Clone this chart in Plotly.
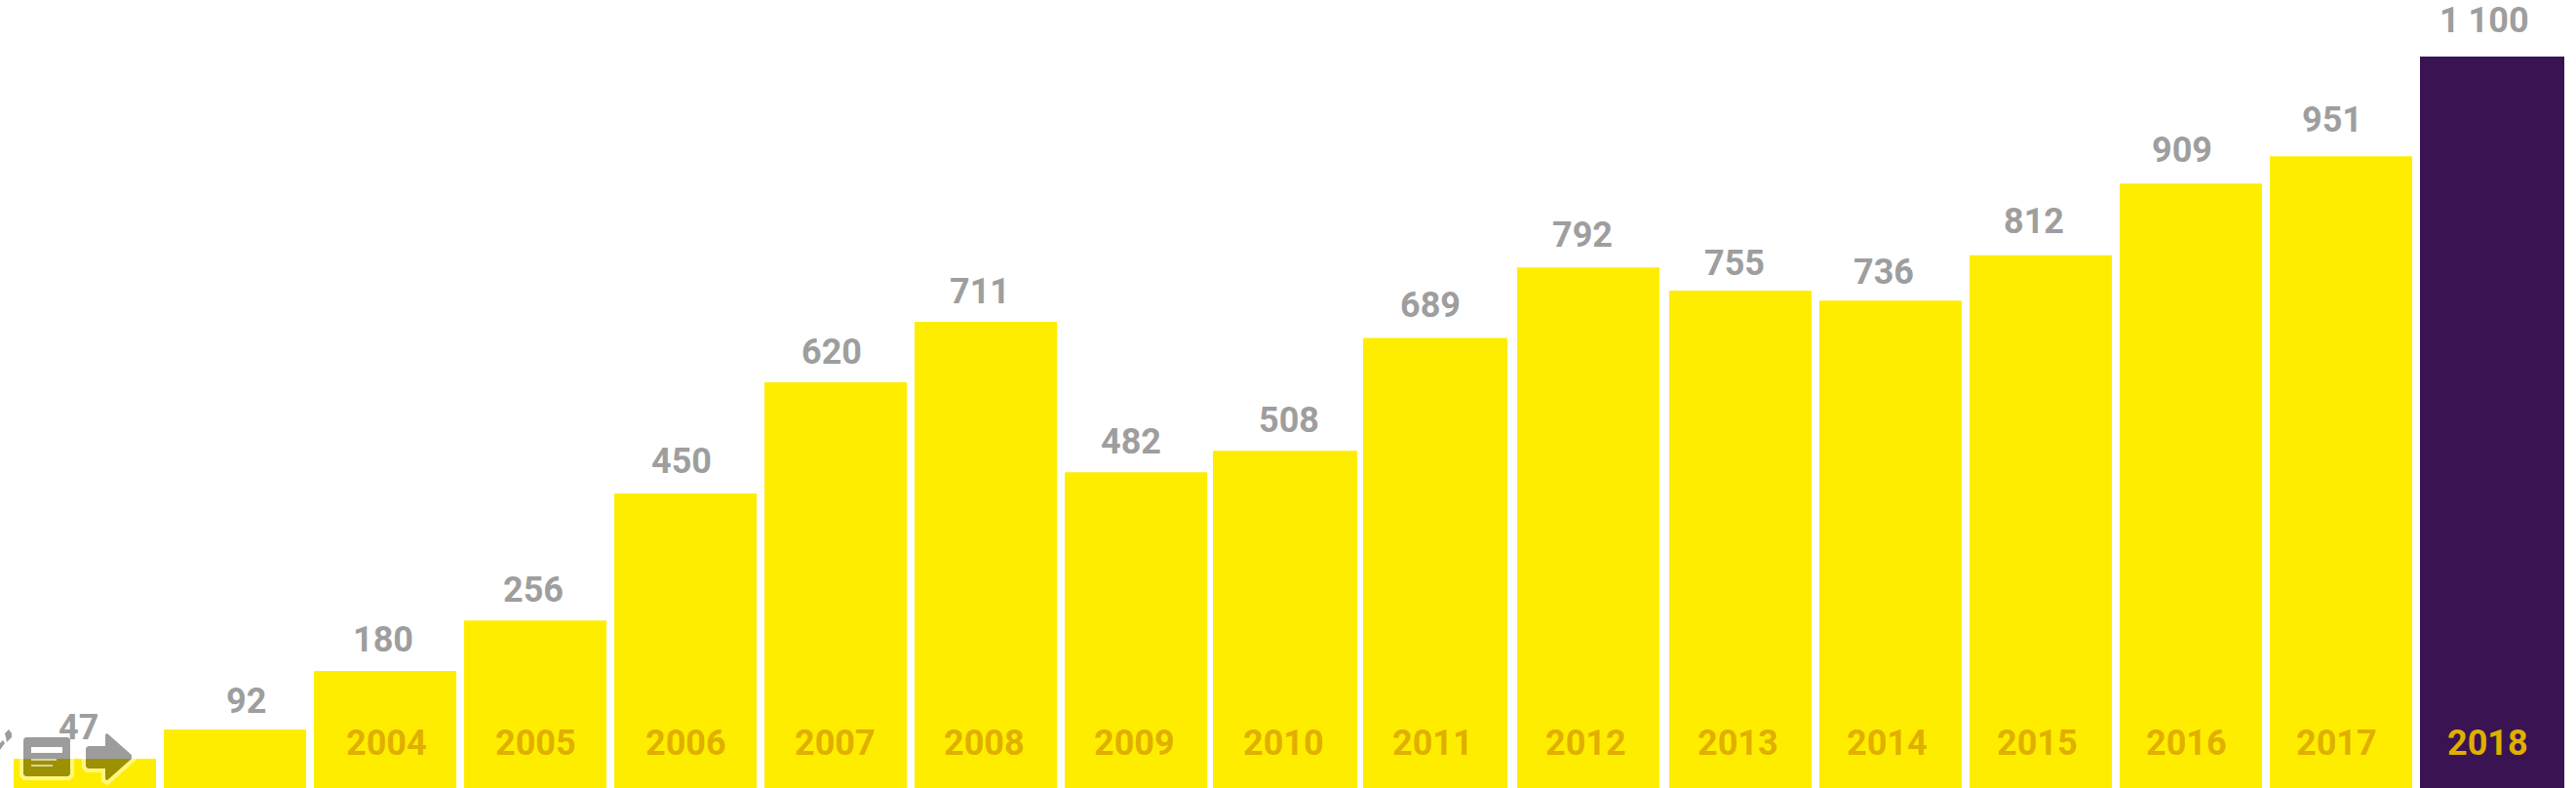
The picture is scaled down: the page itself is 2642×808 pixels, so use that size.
import plotly.graph_objects as go

years = ["2002", "2003", "2004", "2005", "2006", "2007", "2008", "2009", "2010",
         "2011", "2012", "2013", "2014", "2015", "2016", "2017", "2018"]
# Bar heights (on the scale where the last bar is 1 100)
bar_heights = [44, 88, 176, 252, 443, 610, 701, 475, 507, 677, 783, 748, 733, 801, 909, 950, 1100]
# Values as printed above the bars
value_labels = ["47", "92", "180", "256", "450", "620", "711", "482", "508", "689", "792",
                "755", "736", "812", "909", "951", "1 100"]
year_labels = ["", "", "2004", "2005", "2006", "2007", "2008", "2009", "2010", "2011", "2012",
               "2013", "2014", "2015", "2016", "2017", "2018"]

# Layout in pixels; the x axis runs 0..W so these map straight to the page
bar_left = [14, 168, 322, 476, 630, 784, 938, 1092, 1244, 1398, 1556, 1712, 1866, 2020, 2174, 2328, 2482]
bar_width = [146, 146, 146, 146, 146, 146, 146, 146, 148, 148, 146, 146, 146, 146, 146, 146, 148]
value_label_x = [80, 252, 393, 547, 699, 853, 1005, 1160, 1322, 1467, 1623, 1779, 1932, 2086, 2238, 2392, 2548]
value_gap = [20, 17, 20, 19, 21, 19, 19, 19, 19, 21, 21, 16, 17, 23, 22, 25, 25]
year_label_x = [0, 0, 396, 549, 703, 856, 1009, 1163, 1316, 1469, 1626, 1782, 1935, 2089, 2242, 2396, 2551]

W, H = 2642, 808
PX_PER_UNIT = 750 / 1100
DESCENT = 11
centers = [l + w / 2 for l, w in zip(bar_left, bar_width)]
colors = ["#FFED00"] * 16 + ["#3A1353"]
FONT = "Roboto"
WEIGHT = 700
SIZE = 36

fig = go.Figure(go.Bar(x=centers, y=bar_heights, width=bar_width, customdata=years,
                       marker=dict(color=colors, line_width=0), hoverinfo="skip"))

annotations = []
for i, (v, t, yl) in enumerate(zip(bar_heights, value_labels, year_labels)):
    annotations.append(dict(x=value_label_x[i], y=v, text=t, showarrow=False, yanchor="bottom",
                            yshift=value_gap[i] - DESCENT,
                            font=dict(family=FONT, size=SIZE, color="#9E9E9E", weight=WEIGHT)))
    if yl:
        annotations.append(dict(x=year_label_x[i], y=0, yref="paper", text=yl, showarrow=False,
                                yanchor="middle", yshift=46,
                                font=dict(family=FONT, size=SIZE, color="#E0AF00", weight=WEIGHT)))


def path(points):
    return "M " + " L ".join(f"{px / W:.5f},{1 - py / H:.5f}" for px, py in points) + " Z"


def icon(points, fill=None, line=None, width=0):
    return dict(type="path", xref="paper", yref="paper", path=path(points), layer="above",
                fillcolor=fill or "rgba(0,0,0,0)", line=dict(color=line or "rgba(0,0,0,0)", width=width))


GREY = "rgba(0,0,0,0.39)"
HALO = "rgba(255,255,255,0.5)"
shapes = [
    # pencil fragment at the left edge
    icon([(5, 752), (9, 748), (12, 752), (12, 756), (7, 761)], GREY),
    icon([(0, 762), (3, 759), (5, 762), (0, 769)], GREY),
    # comment icon
    icon([(24, 758), (26, 756), (70, 756), (72, 758), (72, 794), (70, 796), (26, 796), (24, 794)], GREY),
    icon([(22, 757), (25, 754), (71, 754), (74, 757), (74, 795), (71, 798), (25, 798), (22, 795)],
         None, HALO, 4),
    icon([(32, 766), (64, 766), (64, 772), (32, 772)], "white"),
    icon([(32, 778), (58, 778), (58, 780), (32, 780)], "rgba(255,255,255,0.6)"),
    icon([(32, 784), (54, 784), (54, 786), (32, 786)], "rgba(255,255,255,0.6)"),
    # arrow icon
    icon([(88, 767), (90, 765), (108, 765), (108, 753), (110, 752), (135, 774), (135, 778),
          (110, 800), (108, 799), (108, 788), (90, 788), (88, 786)], GREY),
    icon([(86, 766), (89, 763), (106, 763), (106, 752), (110, 749), (138, 774), (138, 778),
          (110, 803), (106, 800), (106, 790), (89, 790), (86, 787)], None, HALO, 4),
]

fig.update_layout(
    width=W, height=H, margin=dict(l=0, r=0, t=0, b=0),
    paper_bgcolor="white", plot_bgcolor="white", showlegend=False,
    xaxis=dict(range=[0, W], visible=False),
    yaxis=dict(range=[0, H / PX_PER_UNIT], visible=False),
    annotations=annotations,
    shapes=shapes,
)
fig.write_html("out.html", post_script="document.body.style.margin='0';document.body.style.overflow='hidden';",
               config={"displayModeBar": False})
